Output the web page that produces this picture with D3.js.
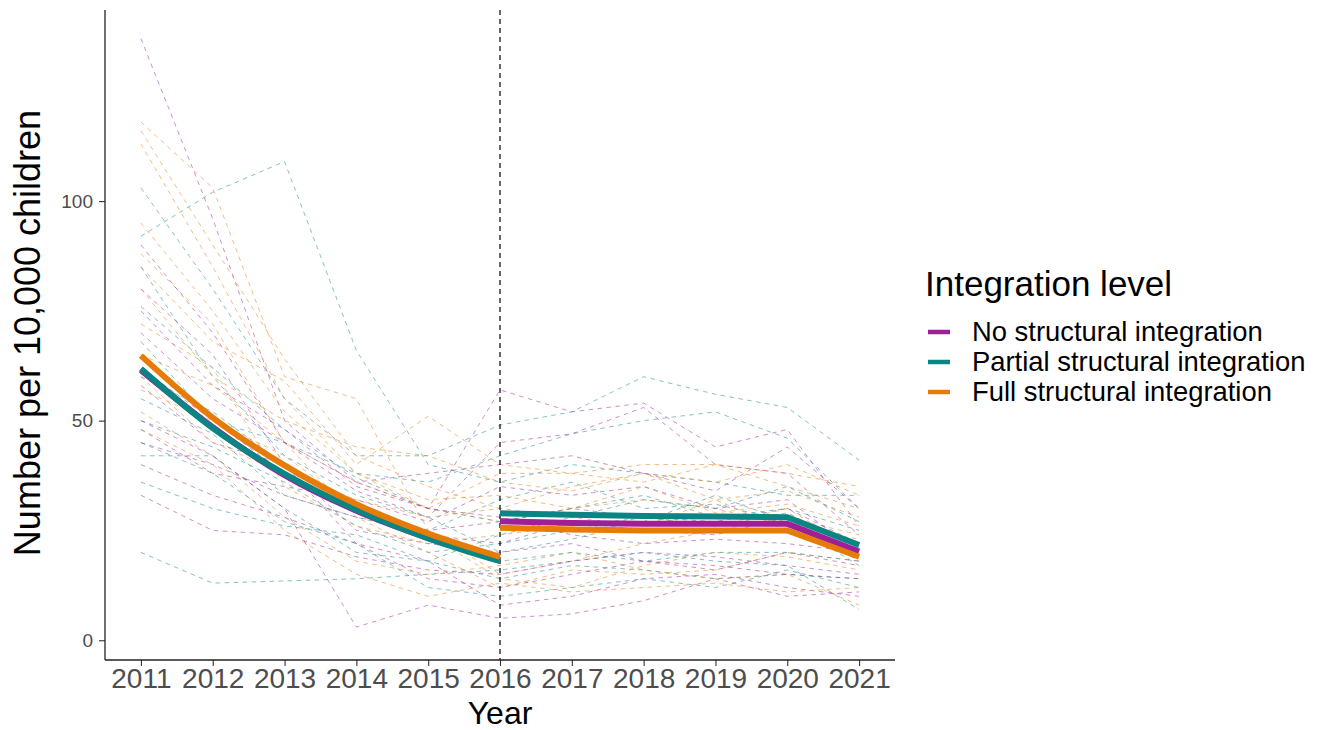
<!DOCTYPE html>
<html><head><meta charset="utf-8">
<script src="https://cdn.jsdelivr.net/npm/d3@7"></script>
<style>body{margin:0;background:#fff;} text{font-family:"Liberation Sans",Arial,sans-serif;}</style>
</head><body><svg id="c" width="1320" height="730"></svg>
<script>
const years = [2011,2012,2013,2014,2015,2016,2017,2018,2019,2020,2021];
const yTicks = [0,50,100];
const groups = ["No structural integration","Partial structural integration","Full structural integration"];
const colors = ["#9e1f98","#0b8484","#e67c06"];

// individual areas (dashed), by group
const noAreas = [
 [137,96,50,36,30,57,52,54,44,48,26],
 [70,55,45,34,28,45,47,53,40,38,24],
 [45,40,33,28,25,27,30,28,27,30,22],
 [33,25,24,19,16,15,18,20,19,17,15],
 [40,33,28,22,18,8,10,14,15,12,10],
 [50,42,30,3,8,5,6,9,14,10,11],
 [80,65,40,25,22,20,22,18,16,20,17],
 [62,50,38,30,24,22,27,25,24,28,18],
 [48,38,35,32,27,35,33,35,30,32,20],
 [58,45,40,22,14,12,15,18,17,15,14],
 [75,58,48,35,30,28,24,22,23,22,20],
 [90,70,45,36,38,40,42,38,34,44,30]
];
const partialAreas = [
 [92,102,109,66,40,36,40,38,36,33,33],
 [20,13,13.5,14,15,16,18,20,18,17,7],
 [103,80,55,42,42,49,52,60,56,53,41],
 [76,62,48,37,30,27,30,33,28,30,25],
 [50,44,36,26,20,22,25,28,26,29,21],
 [42,42,30,20,18,14,17,16,14,15,14],
 [60,52,40,30,25,32,36,30,31,27,22],
 [85,60,42,33,28,20,23,27,33,27,17],
 [45,38,27,22,12,10,12,14,12,16,12],
 [68,50,45,38,36,42,47,50,52,46,30],
 [55,47,33,28,24,18,20,18,20,20,18],
 [36,30,26,24,18,24,28,32,30,35,27]
];
const fullAreas = [
 [118,103,60,55,25,15,18,22,25,28,24],
 [116,90,64,42,35,30,35,38,36,40,33],
 [113,85,55,38,30,38,38,40,40,38,35],
 [88,72,45,36,30,27,30,32,30,26,23],
 [85,68,59,40,51,40,38,36,40,35,30],
 [57,50,42,30,24,14,12,17,20,19,16],
 [65,58,45,28,20,12,16,15,16,20,18],
 [80,60,50,44,42,36,34,38,32,34,28],
 [52,42,28,18,15,17,20,16,14,15,8],
 [72,62,35,26,22,24,26,28,26,30,20],
 [48,40,25,15,10,13,11,12,13,11,12],
 [95,75,52,38,32,33,30,35,29,31,26],
 [60,45,38,32,28,30,28,26,32,25,21]
];
// group trends: pre-period 2011-2016, post-period 2016-2021
const preYears = [2011,2012,2013,2014,2015,2016];
const postYears = [2016,2017,2018,2019,2020,2021];
const noPre = [61.5,48.5,37.6,29.5,23.3,18.3];
const partialPre = [61.8,48.3,37.9,29.7,23.2,18.0];
const fullPre = [64.8,50.7,39.8,31.0,24.3,19.0];
const noPost = [27.1,26.7,26.5,26.5,26.5,20.2];
const partialPost = [28.9,28.6,28.3,28.2,28.0,21.7];
const fullPost = [25.6,25.2,25.0,25.0,25.0,19.0];

const svg = d3.select("#c");
const L=105, R=895, T=10, B=660;
const x = d3.scaleLinear().domain([2010.5,2021.5]).range([L,R]);
const y = d3.scaleLinear().domain([-4.5,143.5]).range([B,T]);

const g = svg.append("g");
const line = d3.line().x(d=>x(d[0])).y(d=>y(d[1]));
const areaSets = [noAreas, partialAreas, fullAreas];
const all = [];
areaSets.forEach((set,gi)=>set.forEach((s,i)=>all.push({gi,i,s})));
all.sort((a,b)=>a.i-b.i || a.gi-b.gi);
all.forEach(d=>{
  g.append("path").attr("d", line(years.map((yr,k)=>[yr,d.s[k]])))
   .attr("fill","none").attr("stroke",colors[d.gi]).attr("stroke-opacity",0.5)
   .attr("stroke-width",1).attr("stroke-dasharray","4.5,4.5");
});

// vertical dashed line
g.append("line").attr("x1",x(2016)).attr("x2",x(2016)).attr("y1",T).attr("y2",B)
 .attr("stroke","#000").attr("stroke-width",1.2).attr("stroke-dasharray","5,4");

const smooth = d3.line().x(d=>x(d[0])).y(d=>y(d[1])).curve(d3.curveMonotoneX);
const pres=[noPre,partialPre,fullPre], posts=[noPost,partialPost,fullPost];
[0,1,2].forEach(gi=>{
  g.append("path").attr("d",smooth(preYears.map((yr,k)=>[yr,pres[gi][k]])))
   .attr("fill","none").attr("stroke",colors[gi]).attr("stroke-width",6);
});
[0,1,2].forEach(gi=>{
  g.append("path").attr("d",line(postYears.map((yr,k)=>[yr,posts[gi][k]])))
   .attr("fill","none").attr("stroke",colors[gi]).attr("stroke-width",6);
});

// axes
const xa = svg.append("g").attr("transform",`translate(0,${B})`)
  .call(d3.axisBottom(x).tickValues(years).tickFormat(d3.format("d")).tickSize(6).tickPadding(2));
const ya = svg.append("g").attr("transform",`translate(${L},0)`)
  .call(d3.axisLeft(y).tickValues(yTicks).tickSize(6).tickPadding(6));
[xa,ya].forEach(a=>{
  a.select(".domain").remove();
  a.selectAll(".tick line").attr("stroke","#333").attr("stroke-width",1.1);
  a.selectAll(".tick text").attr("fill","#4d4d4d");
});
xa.selectAll(".tick text").style("font-size","28px");
ya.selectAll(".tick text").style("font-size","19px");
svg.append("line").attr("x1",L).attr("x2",L).attr("y1",T).attr("y2",B).attr("stroke","#222").attr("stroke-width",1.3);
svg.append("line").attr("x1",L).attr("x2",R).attr("y1",B).attr("y2",B).attr("stroke","#222").attr("stroke-width",1.3);

svg.append("text").attr("x",x(2016)).attr("y",724).attr("text-anchor","middle")
  .style("font-size","32px").attr("fill","#000").text("Year");
svg.append("text").attr("transform",`translate(40,333) rotate(-90)`).attr("text-anchor","middle")
  .style("font-size","36px").attr("fill","#000").text("Number per 10,000 children");

// legend
const lg = svg.append("g");
lg.append("text").attr("x",925).attr("y",296).style("font-size","35px").attr("fill","#000").text("Integration level");
groups.forEach((name,i)=>{
  const yy = 332 + i*30;
  lg.append("line").attr("x1",928).attr("x2",950).attr("y1",yy).attr("y2",yy)
    .attr("stroke",colors[i]).attr("stroke-width",4.5);
  lg.append("text").attr("x",972).attr("y",yy+9).style("font-size","27.4px").attr("fill","#000").text(name);
});
</script></body></html>
